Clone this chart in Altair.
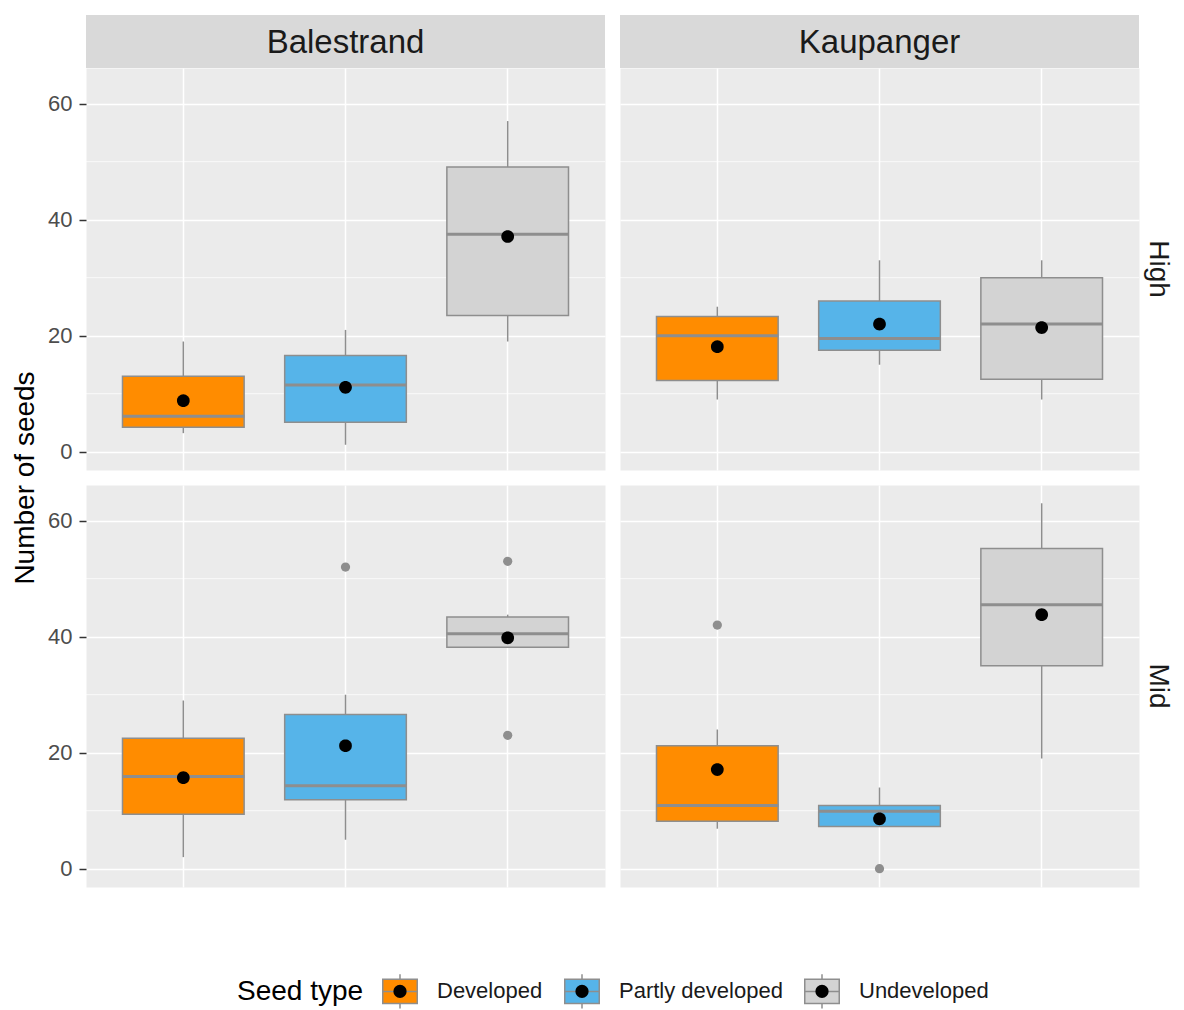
import math
import altair as alt
import pandas as pd

# ---------------- data ----------------
sites = ["Balestrand", "Kaupanger"]
elevations = ["High", "Mid"]
seed_types = ["Developed", "Partly developed", "Undeveloped"]
type_colors = ["#FF8C00", "#56B4E9", "#D3D3D3"]

box_site = ["Balestrand"] * 3 + ["Kaupanger"] * 3 + ["Balestrand"] * 3 + ["Kaupanger"] * 3
box_elev = ["High"] * 6 + ["Mid"] * 6
box_type = seed_types * 4
whisker_low = [3.2, 1.2, 19, 9, 15, 9, 2, 5, 38.2, 6.9, 7.3, 19]
q1 = [4.2, 5.1, 23.5, 12.3, 17.5, 12.5, 9.4, 11.9, 38.2, 8.2, 7.3, 35]
median = [6.1, 11.5, 37.5, 20, 19.5, 22, 15.9, 14.3, 40.5, 10.9, 9.9, 45.5]
q3 = [13.0, 16.6, 49.1, 23.3, 26, 30, 22.5, 26.6, 43.4, 21.2, 10.9, 55.2]
whisker_high = [19, 21, 57, 25, 33, 33, 29, 30, 43.8, 24, 14, 63]
mean_value = [8.8, 11.1, 37.1, 18.1, 22, 21.4, 15.7, 21.2, 39.8, 17.1, 8.6, 43.8]

out_site = ["Balestrand", "Balestrand", "Balestrand", "Kaupanger", "Kaupanger"]
out_elev = ["Mid", "Mid", "Mid", "Mid", "Mid"]
out_type = ["Partly developed", "Undeveloped", "Undeveloped", "Developed", "Partly developed"]
out_value = [52, 53, 23, 42, 0]

major_ticks = [0, 20, 40, 60]
minor_ticks = [10, 30, 50]

boxes = pd.DataFrame({
    "site": box_site, "elev": box_elev, "type": box_type,
    "whisker_low": whisker_low, "q1": q1, "median": median, "q3": q3,
    "whisker_high": whisker_high, "mean": mean_value,
})
boxes["type2"] = boxes["type"]
outs = pd.DataFrame({"site": out_site, "elev": out_elev, "type": out_type, "value": out_value})

# ---------------- styling ----------------
W, H = 519, 402
GREY = "#8E8E8E"
FONT = "Liberation Sans"
YDOM = [-3.15, 66.15]
BOX_BAND = 0.75
BOX_PX = 122

KEY_PATH = ("M -1 -0.7 L 1 -0.7 L 1 0.7 L -1 0.7 Z "
            "M 0 -0.7 L 0 -1 M 0 0.7 L 0 1 M -1 0 L 1 0")
_r = 0.38
_pts = [(_r * math.cos(2 * math.pi * k / 32), _r * math.sin(2 * math.pi * k / 32)) for k in range(32)]
DOT_PATH = "M -1 -1 M 1 1 M " + " L ".join(f"{x:.4f} {y:.4f}" for x, y in _pts) + " Z"

LEG_X, LEG_Y = 151, 905
common_leg = dict(
    title="Seed type", orient="none", legendX=LEG_X, legendY=LEG_Y,
    direction="horizontal", titleOrient="left", symbolSize=1190,
    labelOffset=19, columnPadding=18, titlePadding=18, labelLimit=400,
    labelFontSize=22, titleFontSize=28, titleFontWeight="normal",
    labelFont=FONT, titleFont=FONT, titleColor="black", labelColor="#1A1A1A",
    titleBaseline="middle", titleAnchor="middle",
)
color_legend = alt.Legend(symbolType=KEY_PATH, symbolStrokeColor=GREY,
                          symbolStrokeWidth=1.5, **common_leg)
shape_legend = alt.Legend(symbolFillColor="black", symbolStrokeColor="rgba(0,0,0,0)",
                          symbolStrokeWidth=1.5, titleOpacity=0, labelOpacity=0, **common_leg)


def panel(site, elev):
    left = site == sites[0]
    top = elev == elevations[0]
    b = boxes[(boxes.site == site) & (boxes.elev == elev)]
    o = outs[(outs.site == site) & (outs.elev == elev)]

    xenc = alt.X("type:N", scale=alt.Scale(domain=seed_types, paddingInner=0, paddingOuter=0.1),
                 axis=alt.Axis(labels=False, ticks=False, domain=False, title=None, grid=True,
                               gridColor="white", gridWidth=1.5, bandPosition=0.5))
    yscale = alt.Scale(domain=YDOM, nice=False, zero=False)
    yk = dict(values=major_ticks, grid=True, gridColor="white", gridWidth=1.5, domain=False)
    if left:
        yk.update(labels=True, ticks=True, tickColor="#333333", tickSize=7, tickWidth=1.5,
                  labelPadding=7, labelFontSize=22, labelColor="#4D4D4D", labelFont=FONT)
    else:
        yk.update(labels=False, ticks=False)
    if left and top:
        yk.update(title="Number of seeds", titleX=-61, titleY=H + 7.5, titleFontSize=28,
                  titleFontWeight="normal", titleColor="black", titleAngle=270,
                  titleAlign="center", titleBaseline="middle", titleFont=FONT)
    else:
        yk.update(title=None)
    yaxis = alt.Axis(**yk)

    def Y(f):
        return alt.Y(f, scale=yscale, axis=yaxis)

    layers = []
    layers.append(alt.Chart(pd.DataFrame({"v": minor_ticks})).mark_rule(
        color="white", strokeWidth=0.75).encode(y=Y("v:Q")))
    base = alt.Chart(b)
    layers.append(base.mark_rule(color=GREY, strokeWidth=1.5).encode(
        x=xenc, y=Y("whisker_low:Q"), y2="whisker_high:Q"))
    layers.append(base.mark_bar(width={"band": BOX_BAND}, stroke=GREY, strokeWidth=1.5).encode(
        x=xenc, y=Y("q1:Q"), y2="q3:Q",
        color=alt.Color("type:N", scale=alt.Scale(domain=seed_types, range=type_colors),
                        legend=color_legend)))
    layers.append(base.mark_tick(color=GREY, thickness=3, size=BOX_PX, opacity=1).encode(
        x=xenc, y=Y("median:Q")))
    if len(o):
        layers.append(alt.Chart(o).mark_circle(size=85, color=GREY, opacity=1).encode(
            x=xenc, y=Y("value:Q")))
    layers.append(base.mark_point(filled=True, size=1120, color="black", opacity=1,
                                  strokeWidth=0).encode(
        x=xenc, y=Y("mean:Q"),
        shape=alt.Shape("type2:N", scale=alt.Scale(range=[DOT_PATH] * 3), legend=shape_legend)))
    if top:
        sdf = pd.DataFrame({"label": [site]})
        layers.append(alt.Chart(sdf).mark_rect(fill="#D9D9D9", strokeWidth=0).encode(
            x=alt.value(0), x2=alt.value(W), y=alt.value(-53), y2=alt.value(0)))
        layers.append(alt.Chart(sdf).mark_text(fontSize=33, color="#1A1A1A", baseline="middle",
                                              font=FONT).encode(
            text="label:N", x=alt.value(W / 2), y=alt.value(-25)))
    if not left:
        edf = pd.DataFrame({"label": [elev]})
        layers.append(alt.Chart(edf).mark_text(fontSize=28, color="#1A1A1A", baseline="middle",
                                              angle=90, font=FONT).encode(
            text="label:N", x=alt.value(W + 19), y=alt.value(H / 2)))
    return alt.layer(*layers).properties(width=W, height=H)


panels = [panel(s, e) for e in elevations for s in sites]

chart = alt.concat(*panels, columns=2, spacing=15, bounds="flush").properties(
    padding={"left": 2, "top": 6, "right": 3, "bottom": 0},
    background="white",
).configure(font=FONT).configure_view(fill="#EBEBEB", stroke="transparent")

chart.save("out.html", embed_options={"renderer": "svg", "actions": False})
